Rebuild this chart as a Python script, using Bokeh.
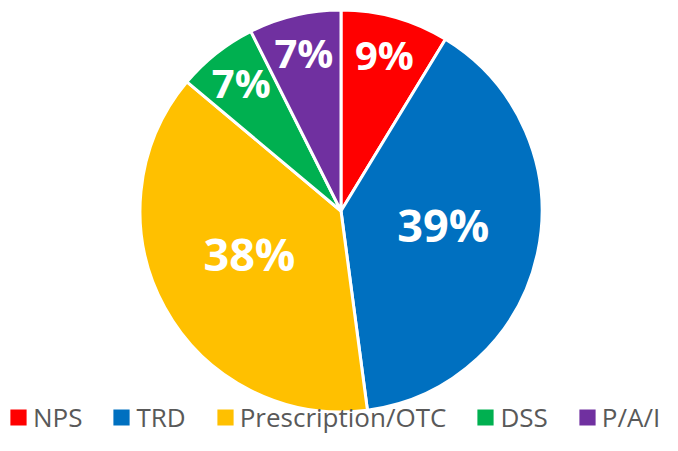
import math
from bokeh.plotting import figure
from bokeh.models import ColumnDataSource, Legend, LegendItem
from bokeh.core.properties import value
from bokeh.embed import file_html
from bokeh.resources import INLINE

# Data
categories = ["NPS", "TRD", "Prescription/OTC", "DSS", "P/A/I"]
shares = [8.7, 39.2, 38.2, 6.5, 7.4]
labels = ["9%", "39%", "38%", "7%", "7%"]
colors = ["#FF0000", "#0070C0", "#FFC000", "#00B050", "#7030A0"]

W, H = 662, 435
cx, cy, R = 340.5, 224.5, 201

p = figure(width=W, height=H, x_range=(0, W), y_range=(0, H),
           output_backend="svg", toolbar_location=None, min_border=0)
p.axis.visible = False
p.grid.visible = False
p.outline_line_color = None
p.background_fill_color = "white"

total = sum(shares)
starts, ends, lx, ly = [], [], [], []
fs, yo = [], []
cum = 0.0
for s in shares:
    a0 = math.pi / 2 - 2 * math.pi * (cum + s) / total
    a1 = math.pi / 2 - 2 * math.pi * cum / total
    starts.append(a0)
    ends.append(a1)
    mid = (a0 + a1) / 2
    big = s > 20
    rf = 0.52 if big else 0.8
    lx.append(cx + rf * R * math.cos(mid))
    ly.append(cy + rf * R * math.sin(mid))
    fs.append("45px" if big else "40px")
    yo.append(-8 if big else -2)
    cum += s

src = ColumnDataSource(dict(start=starts, end=ends, color=colors,
                            x=[cx] * len(shares), y=[cy] * len(shares),
                            lx=lx, ly=ly, label=labels, fs=fs, yo=yo))

wr = p.wedge(x="x", y="y", radius=R, start_angle="start", end_angle="end",
             fill_color="color", line_color="white", line_width=3, source=src)

p.text(x="lx", y="ly", text="label", source=src, text_color="white",
       text_font=value("Open Sans"), text_font_style="bold",
       text_font_size="fs", text_align="center", text_baseline="middle",
       y_offset="yo")

items = [LegendItem(label=name, renderers=[wr], index=i)
         for i, name in enumerate(categories)]

legend = Legend(items=items, orientation="horizontal", location=(6, 0),
                glyph_width=24, glyph_height=24, label_standoff=3,
                spacing=27, padding=0, margin=0,
                label_text_font="Open Sans", label_text_font_size="26px",
                label_text_color="#595959", border_line_color=None,
                background_fill_alpha=0)
p.add_layout(legend, "center")

open("out.html", "w").write(file_html(p, INLINE))
